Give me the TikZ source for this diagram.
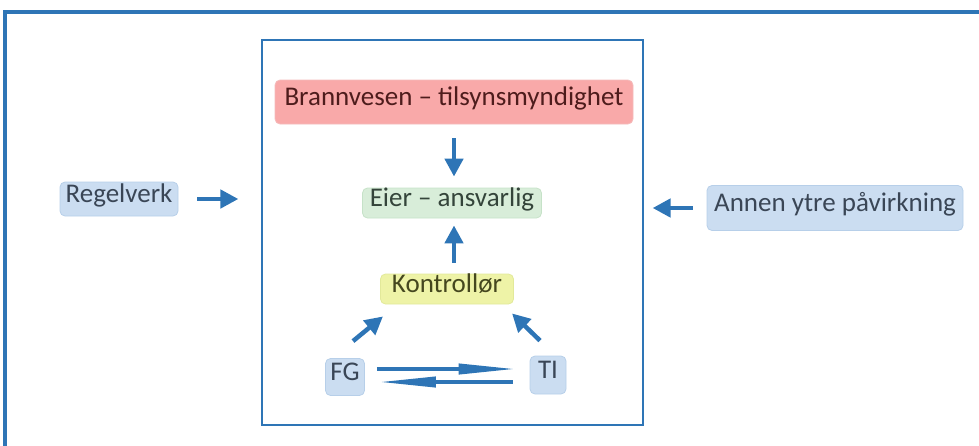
\documentclass[tikz,border=0pt]{standalone}
\usepackage{fontspec}
\setmainfont{Carlito}
\usepackage{tikz}
\usetikzlibrary{arrows.meta}

\definecolor{ramme}{HTML}{2E75B6}
\definecolor{rodfyll}{HTML}{F9A9A9}
\definecolor{rodkant}{HTML}{F4BCBC}
\definecolor{rodtekst}{HTML}{4E1C1C}
\definecolor{gronnfyll}{HTML}{D8EDD9}
\definecolor{gronnkant}{HTML}{C6E2C8}
\definecolor{gronntekst}{HTML}{34443A}
\definecolor{gulfyll}{HTML}{EEF3A7}
\definecolor{gulkant}{HTML}{E2E99A}
\definecolor{gultekst}{HTML}{45471F}
\definecolor{blafyll}{HTML}{CBDDF1}
\definecolor{blakant}{HTML}{B7CFE9}
\definecolor{blatekst}{HTML}{3A4656}

\tikzset{
  boks/.style={rounded corners=5pt, line width=0.8pt, inner sep=0pt,
    text height=0.74em, text depth=0em, font=\fontsize{27}{31}\selectfont},
  rod/.style={boks, fill=rodfyll, draw=rodkant, text=rodtekst},
  gronn/.style={boks, fill=gronnfyll, draw=gronnkant, text=gronntekst},
  gul/.style={boks, fill=gulfyll, draw=gulkant, text=gultekst},
  bla/.style={boks, fill=blafyll, draw=blakant, text=blatekst},
  pil/.style={ramme, line width=4.5pt, -{Triangle[length=18pt,width=18pt]}},
  langpil/.style={ramme, line width=4pt, -{Triangle[length=58pt,width=10pt]}}
}

\begin{document}
\begin{tikzpicture}[x=1pt,y=-1pt]
  \clip (0,0) rectangle (979,445);
  \draw[ramme, line width=4.5pt] (5,12) rectangle (1010,480);
  \draw[ramme, line width=2.5pt] (262,40) rectangle (643,425);

  \node[rod, minimum width=358pt, minimum height=44pt] (brann) at (454,102) {Brannvesen -- tilsynsmyndighet};
  \node[gronn, minimum width=179pt, minimum height=30pt] (eier) at (452,203) {Eier -- ansvarlig};
  \node[gul, minimum width=133pt, minimum height=30pt] (kontroll) at (447,289) {Kontrollør\hspace{8pt}};
  \node[bla, minimum width=39pt, minimum height=37pt] (fg) at (345,377) {FG};
  \node[bla, minimum width=36pt, minimum height=38pt] (ti) at (548,375) {TI};
  \node[bla, minimum width=118pt, minimum height=34pt] (regel) at (119,199) {Regelverk};
  \node[bla, minimum width=256pt, minimum height=45pt] (annen) at (835,208) {Annen ytre påvirkning};

  \draw[pil] ([shift={(0,14)}]brann.south) -- ([shift={(2,-11)}]eier.north);
  \draw[pil] ([shift={(7,-11)}]kontroll.north) -- ([shift={(2,7)}]eier.south);
  \draw[pil] ([shift={(8,-17)}]fg.north) -- ([shift={(-64,12)}]kontroll.south);
  \draw[pil] ([shift={(-8,-15)}]ti.north) -- ([shift={(65,9)}]kontroll.south);
  \draw[langpil] ([shift={(12,-8)}]fg.east) -- ([shift={(-13,-6)}]ti.west);
  \draw[langpil] ([shift={(-17,7)}]ti.west) -- ([shift={(13,5)}]fg.east);
  \draw[pil] ([xshift=19]regel.east) -- ([xshift=60]regel.east);
  \draw[pil] ([xshift=-14]annen.west) -- ([xshift=-54]annen.west);
\end{tikzpicture}
\end{document}
